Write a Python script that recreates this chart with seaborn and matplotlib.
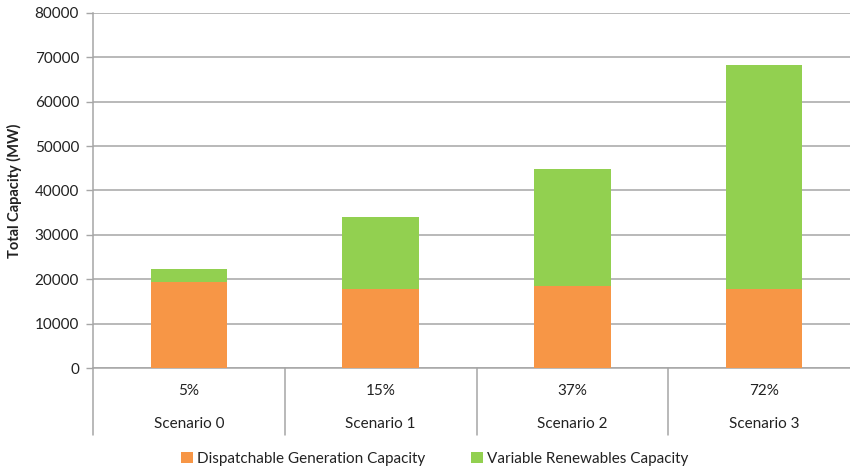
import matplotlib
matplotlib.use("Agg")
import matplotlib.pyplot as plt
from matplotlib.patches import Patch
import seaborn as sns
import pandas as pd

# Installed capacity by scenario (MW)
scenarios = ["Scenario 0", "Scenario 1", "Scenario 2", "Scenario 3"]
vre_share = ["5%", "15%", "37%", "72%"]
dispatchable = [19300, 17800, 18500, 17700]
variable_renewables = [2950, 16200, 26300, 50600]

ORANGE = "#F79646"
GREEN = "#92D050"
GRID = "#A6A6A6"
TEXT = "#222222"

sns.set_theme(style="white")
plt.rcParams["font.family"] = ["Lato", "DejaVu Sans"]

df = pd.DataFrame({
    "scenario": scenarios,
    "dispatchable": dispatchable,
    "total": [d + v for d, v in zip(dispatchable, variable_renewables)],
})

fig = plt.figure(figsize=(8.5, 4.71), dpi=100)
ax = fig.add_axes([93 / 850, 103 / 471, (860 - 93) / 850, 355 / 471])

# Stacked bars: total (green) with dispatchable (orange) drawn over the bottom part
sns.barplot(data=df, x="scenario", y="total", color=GREEN, width=0.4,
            saturation=1, linewidth=0, ax=ax, zorder=3)
sns.barplot(data=df, x="scenario", y="dispatchable", color=ORANGE, width=0.4,
            saturation=1, linewidth=0, ax=ax, zorder=4)

ax.set_xlim(-0.5, 3.5)
ax.set_ylim(0, 80000)
ax.set_yticks(range(0, 80001, 10000))
ax.tick_params(axis="y", labelsize=11, colors=GRID, labelcolor=TEXT, length=5,
               width=1, direction="out", left=True, pad=5)
ax.yaxis.grid(True, color=GRID, linewidth=1.1, zorder=0)
ax.set_axisbelow(True)

ax.set_xticks([])
ax.set_xlabel("")
ax.set_ylabel("Total Capacity (MW)", fontsize=10.5, fontweight="bold",
              color=TEXT, labelpad=9)

for side in ["top", "right"]:
    ax.spines[side].set_visible(False)
ax.spines["left"].set_color(GRID)
ax.spines["bottom"].set_color(GRID)
ax.spines["left"].set_linewidth(1.1)
ax.spines["bottom"].set_linewidth(1.1)

# Two-level category axis
trans = ax.get_xaxis_transform()
sep_depth = (435 - 368) / 355
for xs in [-0.5, 0.5, 1.5, 2.5, 3.5]:
    ax.plot([xs, xs], [0, -sep_depth], transform=trans, color=GRID,
            linewidth=1.1, clip_on=False)
for i, (sc, sh) in enumerate(zip(scenarios, vre_share)):
    ax.text(i, -(391 - 368) / 355, sh, transform=trans, ha="center",
            va="center", fontsize=11, color=TEXT)
    ax.text(i, -(424 - 368) / 355, sc, transform=trans, ha="center",
            va="center", fontsize=11, color=TEXT)

handles = [Patch(facecolor=ORANGE, edgecolor="none",
                 label="Dispatchable Generation Capacity"),
           Patch(facecolor=GREEN, edgecolor="none",
                 label="Variable Renewables Capacity")]
fig.legend(handles=handles, loc="center", bbox_to_anchor=(435 / 850, 1 - 459 / 471),
           ncol=2, frameon=False, fontsize=11, handlelength=0.75,
           handleheight=0.75, handletextpad=0.3, columnspacing=3.0,
           labelcolor=TEXT)

fig.savefig("out.png", dpi=100)
